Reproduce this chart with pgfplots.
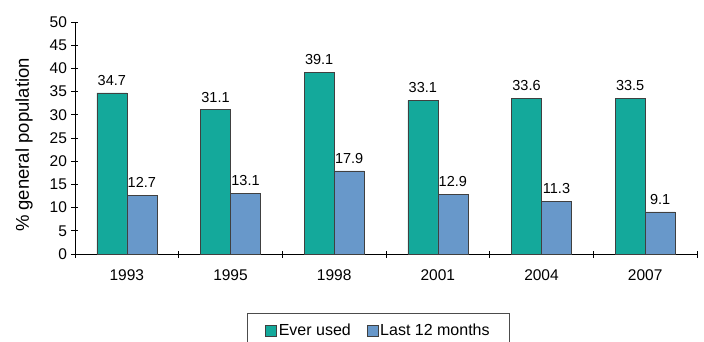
\documentclass[border=0pt]{standalone}
\usepackage{fontspec}
\setmainfont{Liberation Sans}
\usepackage{pgfplots}
\pgfplotsset{compat=1.18}
\definecolor{tealbar}{HTML}{14A99B}
\definecolor{bluebar}{HTML}{6898CA}
\newcommand{\tickfont}{\fontsize{15.5bp}{17bp}\selectfont}
\newcommand{\nodefont}{\fontsize{14.5bp}{17bp}\selectfont}
\newcommand{\legfont}{\fontsize{16bp}{18bp}\selectfont}
\newcommand{\labfont}{\fontsize{18.5bp}{20bp}\selectfont}
\begin{document}
\begin{tikzpicture}
\begin{axis}[
  scale only axis,
  width=622bp, height=232bp,
  ybar=0pt, bar width=30bp,
  xmin=-0.5, xmax=5.5,
  ymin=0, ymax=50,
  ytick={0,5,...,50},
  xtick={0,...,5},
  xticklabels={1993,1995,1998,2001,2004,2007},
  minor xtick={-0.5,0.5,...,5.5},
  major x tick style={draw=none},
  minor x tick style={black, thick},
  minor tick length=7bp,
  major tick length=7bp,
  tick align=outside,
  axis x line=bottom, axis y line=left,
  axis line style={-, black, thick},
  y tick style={black, thick},
  xticklabel style={yshift=-9bp},
  yticklabel style={xshift=-1bp},
  /pgf/number format/assume math mode=true,
  ticklabel style={font=\tickfont},
  ylabel={\% general population},
  every axis y label/.style={at={(rel axis cs:0,0.5)}, xshift=-51bp, yshift=-7bp, rotate=90, anchor=center, font=\labfont},
  nodes near coords,
  nodes near coords style={font=\nodefont, yshift=4bp, /pgf/number format/fixed, /pgf/number format/precision=1, /pgf/number format/fixed zerofill},
  legend columns=2,
  legend style={at={(rel axis cs:0.488,0)}, anchor=north, yshift=-59bp, draw=black!70, inner xsep=18bp, inner ysep=9bp, font=\legfont, /tikz/every even column/.append style={column sep=14bp}},
  legend image code/.code={\draw[#1] (0bp,-5.5bp) rectangle (11bp,5.5bp);},
  clip=false,
]
\addplot[fill=tealbar, draw=black!75] coordinates {(0,34.7) (1,31.1) (2,39.1) (3,33.1) (4,33.6) (5,33.5)};
\addplot[fill=bluebar, draw=black!75] coordinates {(0,12.7) (1,13.1) (2,17.9) (3,12.9) (4,11.3) (5,9.1)};
\legend{Ever used, Last 12 months}
\coordinate (o) at (rel axis cs:0,0);
\end{axis}
\pgfresetboundingbox
\path[use as bounding box] (o) ++(-75bp,-88bp) rectangle ++(704bp,342bp);
\end{tikzpicture}
\end{document}
